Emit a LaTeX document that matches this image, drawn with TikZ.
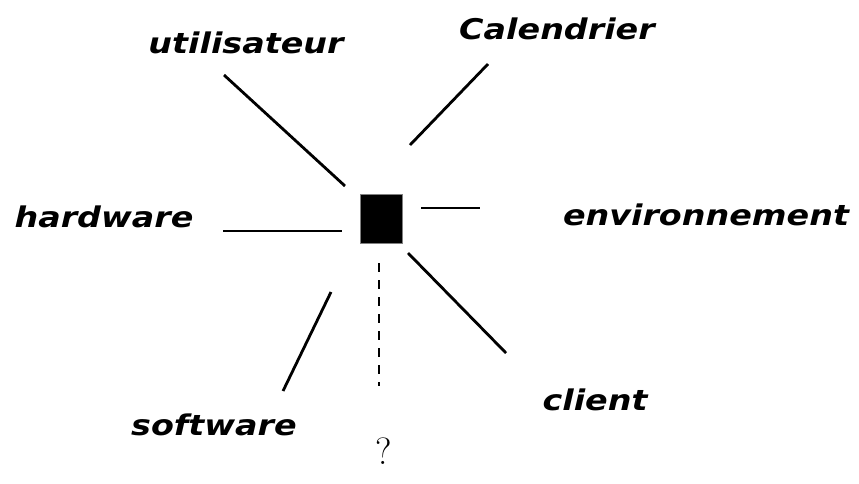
\documentclass[tikz,border=0pt]{standalone}
\usepackage{fontspec}
\newfontfamily\handfont[FakeStretch=1.17]{DejaVu Sans Bold Oblique}
\begin{document}
\begin{tikzpicture}[x=1pt,y=-1pt,
  lbl/.style={font=\handfont\fontsize{28.5}{32}\selectfont, inner sep=0pt, anchor=base},
  ray/.style={line width=2.8pt},
  dray/.style={line width=2.8pt, dash pattern=on 9pt off 8pt},
  box/.style={draw=gray, line width=0.6pt, fill=black, minimum width=42pt, minimum height=49pt, inner sep=0pt}]
\useasboundingbox (0,0) rectangle (859,483);
\node[box] (sq) at (381,218.5) {};
\node[lbl] (util) at (246,53) {utilisateur};
\node[lbl] (cal) at (557,39) {Calendrier};
\node[lbl] (env) at (706,225) {environnement};
\node[lbl] (hard) at (104,227) {hardware};
\node[lbl] (cli) at (595,410) {client};
\node[lbl] (soft) at (214,435) {software};
\node[font=\fontsize{38}{42}\selectfont, inner sep=0pt, anchor=base] (q) at (384,464) {?};
\coordinate (u1) at (224,75);  \coordinate (u2) at (345,186);
\coordinate (c1) at (488,64);  \coordinate (c2) at (410,145);
\coordinate (e1) at (421,208); \coordinate (e2) at (480,208);
\coordinate (h1) at (223,231); \coordinate (h2) at (342,231);
\coordinate (k1) at (408,253); \coordinate (k2) at (506,353);
\coordinate (s1) at (331,292); \coordinate (s2) at (283,391);
\coordinate (d1) at (379,263); \coordinate (d2) at (379,386);
\draw[ray] (u1) -- (u2);
\draw[ray] (c1) -- (c2);
\draw[ray] (e1) -- (e2);
\draw[ray] (h1) -- (h2);
\draw[ray] (k1) -- (k2);
\draw[ray] (s1) -- (s2);
\draw[dray] (d1) -- (d2);
\end{tikzpicture}
\end{document}
